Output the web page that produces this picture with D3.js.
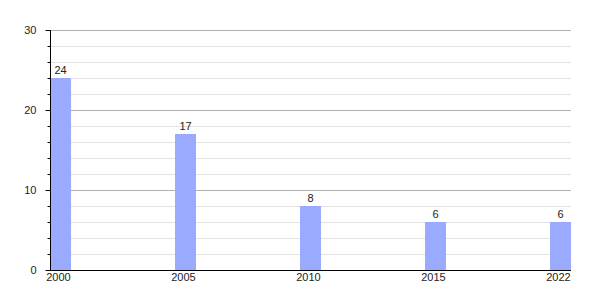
<!DOCTYPE html>
<html>
<head>
<meta charset="utf-8">
<script src="https://cdn.jsdelivr.net/npm/d3@7"></script>
<style>
  body { margin: 0; background: #fff; }
  text { font-family: "Liberation Sans", Arial, sans-serif; }
</style>
</head>
<body>
<div id="chart"></div>
<script>
// chart data
var years = ["2000", "2005", "2010", "2015", "2022"];
var counts = [24, 17, 8, 6, 6];
var majorTicks = [0, 10, 20, 30];
var minorTicks = d3.range(0, 31, 2);

var svgWidth = 600;
var svgHeight = 300;
var margin = { top: 30, right: 29, bottom: 30, left: 50 };
var barWidth = 21;

var svg = d3.select("#chart")
            .append("svg")
            .attr("width", svgWidth)
            .attr("height", svgHeight);

var plotRight = svgWidth - margin.right;
var plotBottom = svgHeight - margin.bottom;

// bars sit at the left of each point, last one ends at plot right
var x = d3.scalePoint()
          .domain(years)
          .range([margin.left, plotRight - barWidth]);

var y = d3.scaleLinear()
          .domain([0, 30])
          .range([plotBottom, margin.top]);

// minor gridlines
svg.append("g")
   .selectAll("line")
   .data(minorTicks.filter(function(d) { return d % 10 !== 0; }))
   .enter()
   .append("line")
   .attr("x1", margin.left)
   .attr("x2", plotRight)
   .attr("y1", function(d) { return y(d) + 0.5; })
   .attr("y2", function(d) { return y(d) + 0.5; })
   .attr("stroke", "#e2e2e2");

// major gridlines
svg.append("g")
   .selectAll("line")
   .data(majorTicks.filter(function(d) { return d > 0; }))
   .enter()
   .append("line")
   .attr("x1", margin.left)
   .attr("x2", plotRight)
   .attr("y1", function(d) { return y(d) + 0.5; })
   .attr("y2", function(d) { return y(d) + 0.5; })
   .attr("stroke", "#b0b0b0");

// bars
svg.selectAll("rect.bar")
   .data(counts)
   .enter()
   .append("rect")
   .attr("class", "bar")
   .attr("x", function(d, i) { return x(years[i]); })
   .attr("y", function(d) { return y(d); })
   .attr("width", barWidth)
   .attr("height", function(d) { return plotBottom - y(d); })
   .attr("fill", "#9aabff");

// value labels
svg.selectAll("text.val")
   .data(counts)
   .enter()
   .append("text")
   .attr("class", "val")
   .text(function(d) { return d; })
   .attr("x", function(d, i) { return x(years[i]) + barWidth / 2; })
   .attr("y", function(d) { return y(d) - 4; })
   .attr("font-size", "11px")
   .attr("fill", "#222")
   .attr("text-anchor", "middle");

// y axis, major ticks with labels
var yAxis = svg.append("g")
   .attr("transform", "translate(" + (margin.left + 0.5) + ",0)")
   .call(d3.axisLeft(y).tickValues(majorTicks).tickSize(5).tickPadding(9));
yAxis.select(".domain").remove();
yAxis.selectAll("text").attr("font-size", "11px").attr("fill", "#222")
     .style("font-family", "'Liberation Sans', Arial, sans-serif");
yAxis.selectAll("line").attr("stroke", "#000");

// minor ticks
var yMinor = svg.append("g")
   .attr("transform", "translate(" + (margin.left + 0.5) + ",0)")
   .call(d3.axisLeft(y).tickValues(minorTicks.filter(function(d) { return d % 10 !== 0; }))
                      .tickSize(3).tickFormat(""));
yMinor.select(".domain").remove();
yMinor.selectAll("line").attr("stroke", "#000");

// axis lines
svg.append("line")
   .attr("x1", margin.left + 0.5)
   .attr("x2", margin.left + 0.5)
   .attr("y1", margin.top)
   .attr("y2", plotBottom)
   .attr("stroke", "#000");
svg.append("line")
   .attr("x1", margin.left)
   .attr("x2", plotRight)
   .attr("y1", plotBottom + 0.5)
   .attr("y2", plotBottom + 0.5)
   .attr("stroke", "#000");

// x labels
svg.selectAll("text.xlab")
   .data(years)
   .enter()
   .append("text")
   .attr("class", "xlab")
   .text(function(d) { return d; })
   .attr("x", function(d) { return x(d) + barWidth / 2 - 2; })
   .attr("y", plotBottom + 11)
   .attr("font-size", "11px")
   .attr("fill", "#222")
   .attr("text-anchor", "middle");
</script>
</body>
</html>
